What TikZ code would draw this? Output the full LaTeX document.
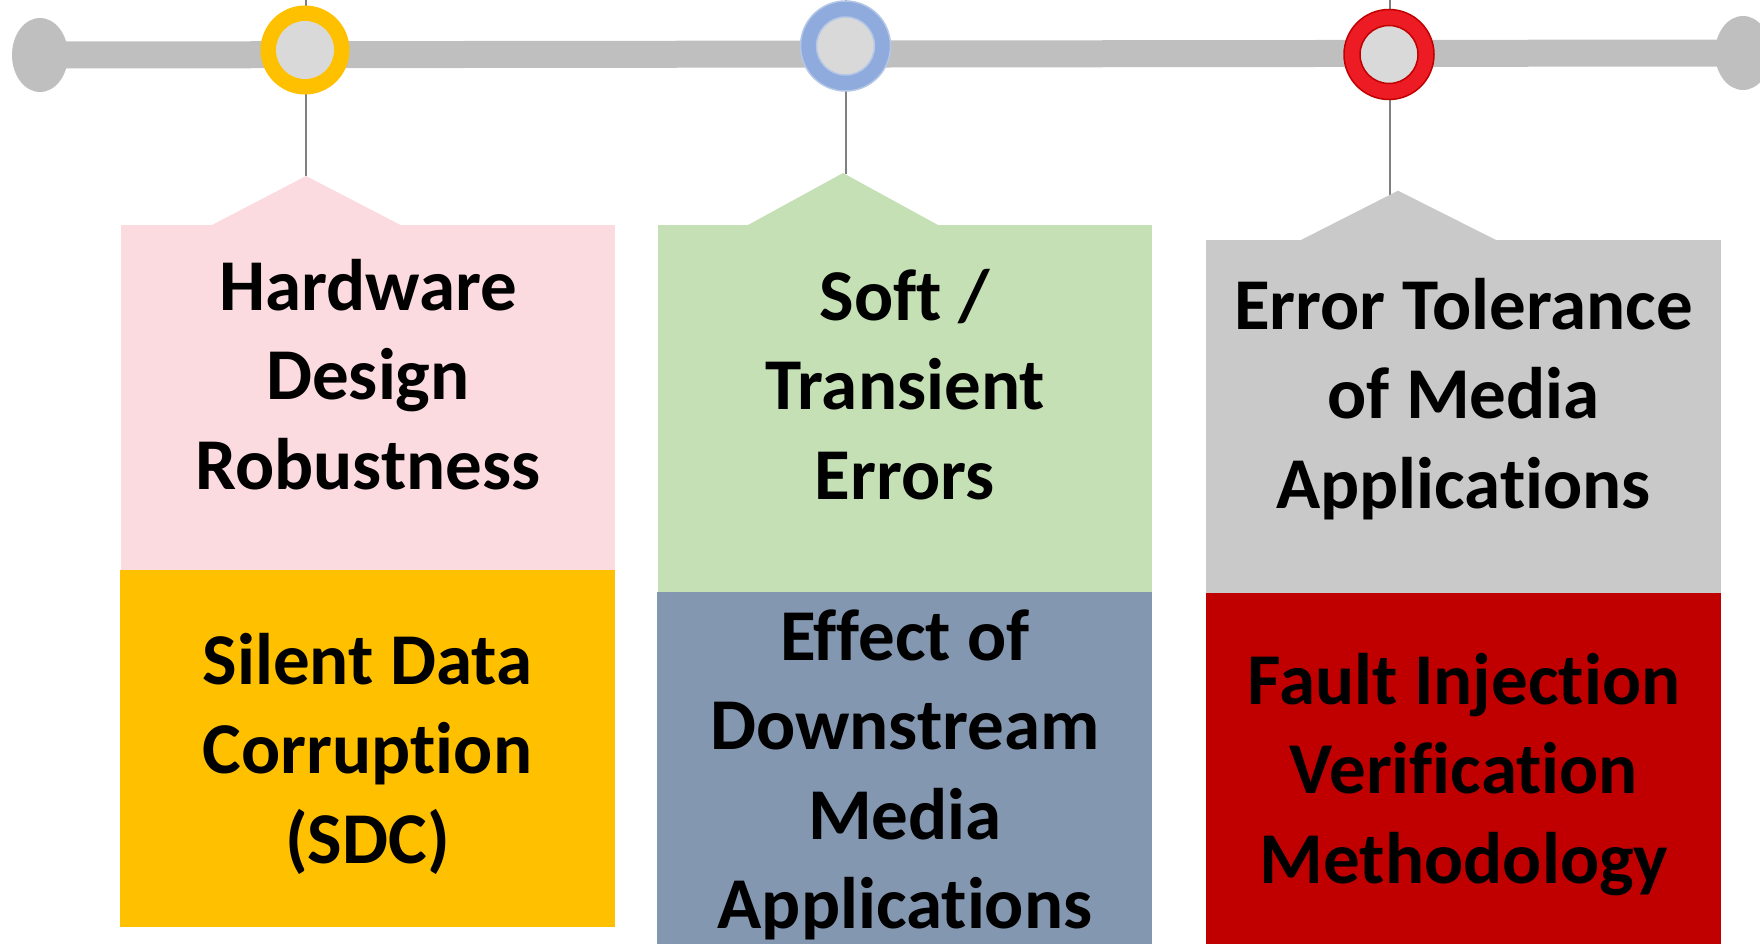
\documentclass[tikz,border=0pt]{standalone}
\usepackage{fontspec}
\setmainfont{Carlito}[Ligatures={NoCommon,NoRare}]
\definecolor{barg}{HTML}{BFBFBF}
\definecolor{core}{HTML}{D9D9D9}
\definecolor{ryel}{HTML}{FFC000}
\definecolor{rblue}{HTML}{8FAADC}
\definecolor{rblueo}{HTML}{B4C7E7}
\definecolor{rred}{HTML}{ED1C24}
\definecolor{rredo}{HTML}{C00000}
\definecolor{cpink}{HTML}{FBDBE0}
\definecolor{cgreen}{HTML}{C5E0B4}
\definecolor{cgray}{HTML}{C9C9C9}
\definecolor{corange}{HTML}{FFC000}
\definecolor{cslate}{HTML}{8497B0}
\definecolor{cred}{HTML}{C00000}
\definecolor{stemc}{HTML}{808080}
\tikzset{
  stemline/.style={draw=stemc, line width=2.7pt},
  boxnode/.style={rectangle, anchor=north west, inner sep=0pt, outer sep=0pt, draw=none},
  lbl/.style={anchor=north, align=center, inner sep=0pt, text=black,
    font=\fontsize{73}{89.5}\selectfont\bfseries},
  ringnode/.style={circle, inner sep=0pt, outer sep=0pt},
}
\begin{document}
\begin{tikzpicture}[x=1pt,y=-1pt]
\useasboundingbox (0,0) rectangle (1760,944);
\clip (0,0) rectangle (1760,944);
% timeline bar
\coordinate (bl) at (40,55);
\coordinate (br) at (1743,53);
\fill[barg] (bl) ellipse [x radius=28, y radius=37];
\fill[barg] (br) ellipse [x radius=28, y radius=37];
\draw[barg, line width=27pt] (bl) -- (br);
% peaks (coordinates)
\coordinate (p1) at (306,176);
\coordinate (p2) at (843,173);
\coordinate (p3) at (1398,190.7);
\coordinate (t1) at (306,0);
\coordinate (t2) at (846,0);
\coordinate (t3) at (1390,0);
\coordinate (e3) at (1390,196);
% stems
\draw[stemline] (t1) -- (p1);
\draw[stemline] (t2) -- (846,174);
\draw[stemline] (t3) -- (e3);
% rings
\node[ringnode, fill=ryel, minimum size=89pt] (r1) at (305,50) {};
\node[ringnode, fill=core, minimum size=58pt] (c1) at (r1) {};
\node[ringnode, fill=rblue, draw=rblueo, line width=1.5pt, minimum size=90pt] (r2) at (845.5,46) {};
\node[ringnode, fill=core, draw=rblueo, line width=1.5pt, minimum size=58pt] (c2) at (r2) {};
\node[ringnode, fill=rred, draw=rredo, line width=1.5pt, minimum size=90pt] (r3) at (1389,54.5) {};
\node[ringnode, fill=core, draw=rredo, line width=1.5pt, minimum size=58pt] (c3) at (r3) {};
% upper boxes with pointers
\fill[cpink] (211,225.5) -- (p1) -- (401.5,225.5) -- cycle;
\node[boxnode, fill=cpink, minimum width=494pt, minimum height=345pt] (b1) at (121,225) {};
\fill[cgreen] (748,225) -- (p2) -- (938,225) -- cycle;
\node[boxnode, fill=cgreen, minimum width=494pt, minimum height=367pt] (b2) at (658,224.5) {};
\fill[cgray] (1300,240.5) -- (p3) -- (1497,240.5) -- cycle;
\node[boxnode, fill=cgray, minimum width=515pt, minimum height=353pt] (b3) at (1206,240) {};
% lower boxes
\node[boxnode, fill=corange, minimum width=495pt, minimum height=357pt] (d1) at (120,570) {};
\node[boxnode, fill=cslate, minimum width=495pt, minimum height=353pt] (d2) at (657,591.5) {};
\node[boxnode, fill=cred, minimum width=515pt, minimum height=352pt] (d3) at (1206,593) {};
% texts
\node[lbl] (l1) at (368,247.4) {\strut Hardware\\Design\\Robustness\strut};
\node[lbl] (l2) at (905,257.4) {\strut Soft /\\Transient\\Errors\strut};
\node[lbl] (l3) at (1463.5,266.4) {\strut Error Tolerance\\of Media\\Applications\strut};
\node[lbl] (m1) at (367.5,621.4) {\strut Silent Data\\Corruption\\(SDC)\strut};
\node[lbl] (m2) at (905,597.4) {\strut Effect of\\Downstream\\Media\\Applications\strut};
\node[lbl] (m3) at (1464,641.4) {\strut Fault Injection\\Verification\\Methodology\strut};
\end{tikzpicture}
\end{document}
